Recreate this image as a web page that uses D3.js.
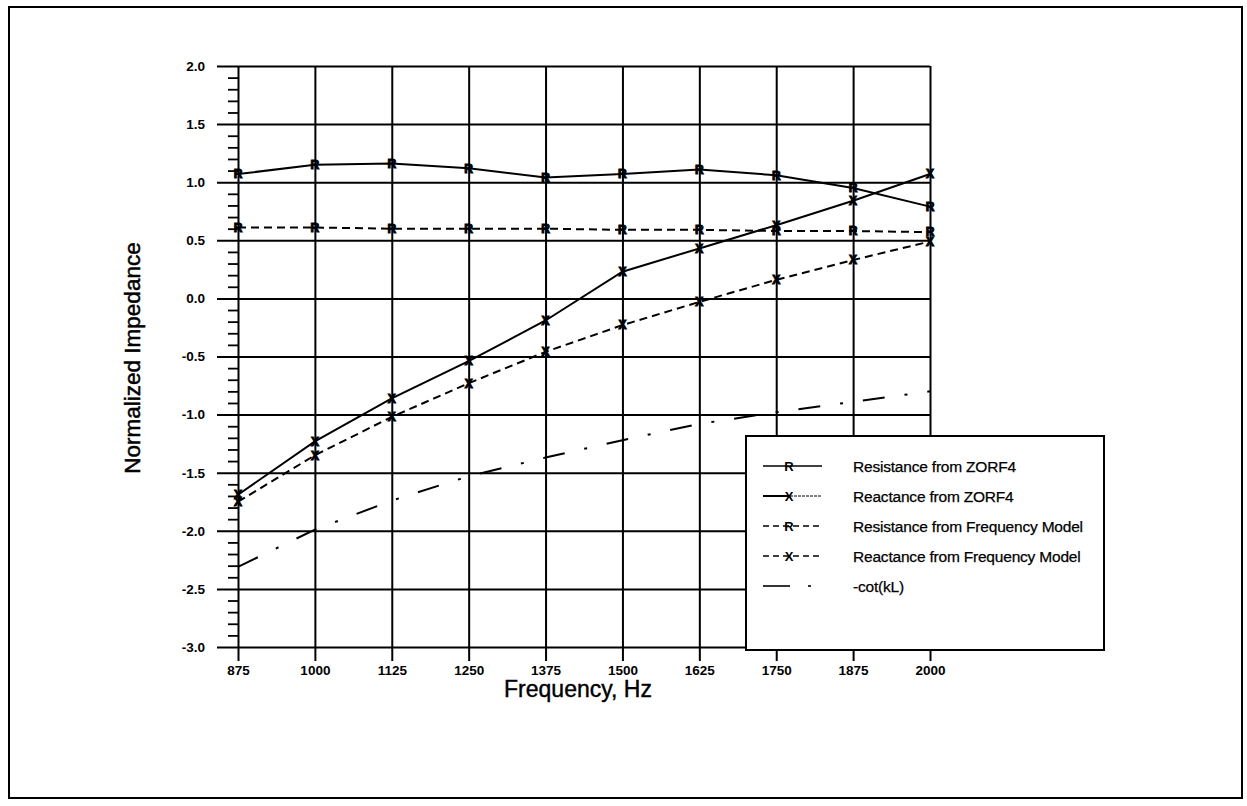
<!DOCTYPE html>
<html>
<head>
<meta charset="utf-8">
<script src="https://cdn.jsdelivr.net/npm/d3@7"></script>
<style>
  html, body { margin: 0; padding: 0; background: #fff; }
  svg { display: block; font-family: "Liberation Sans", Arial, sans-serif; }
</style>
</head>
<body>
<svg id="chart" width="1247" height="806"></svg>
<script>
// ---------------- data ----------------
const frequencies = [875, 1000, 1125, 1250, 1375, 1500, 1625, 1750, 1875, 2000];
const xTickLabels = ["875", "1000", "1125", "1250", "1375", "1500", "1625", "1750", "1875", "2000"];
const yTickValues = [2.0, 1.5, 1.0, 0.5, 0.0, -0.5, -1.0, -1.5, -2.0, -2.5, -3.0];
const yTickLabels = ["2.0", "1.5", "1.0", "0.5", "0.0", "-0.5", "-1.0", "-1.5", "-2.0", "-2.5", "-3.0"];

const resistanceZorf4 = [1.07, 1.15, 1.16, 1.12, 1.04, 1.07, 1.11, 1.06, 0.95, 0.79];
const reactanceZorf4  = [-1.69, -1.23, -0.86, -0.54, -0.19, 0.23, 0.43, 0.63, 0.84, 1.07];
const resistanceModel = [0.61, 0.61, 0.60, 0.60, 0.60, 0.59, 0.59, 0.58, 0.58, 0.57];
const reactanceModel  = [-1.75, -1.35, -1.02, -0.73, -0.46, -0.23, -0.03, 0.16, 0.33, 0.49];
const cotKL           = [-2.31, -1.99, -1.74, -1.53, -1.37, -1.22, -1.08, -0.98, -0.89, -0.80];

const seriesNames = [
  "Resistance from ZORF4",
  "Reactance from ZORF4",
  "Resistance from Frequency Model",
  "Reactance from Frequency Model",
  "-cot(kL)"
];

// ---------------- layout ----------------
const svg = d3.select("#chart");
const x = d3.scaleLinear().domain([875, 2000]).range([238, 930]);
const y = d3.scaleLinear().domain([-3, 2]).range([647, 66]);

// outer frame
svg.append("rect").attr("x", 9).attr("y", 7).attr("width", 1233).attr("height", 791)
  .attr("fill", "none").attr("stroke", "#000").attr("stroke-width", 2);

// horizontal gridlines + y labels (axis placed at right edge, ticks reach left)
const yAx = svg.append("g").attr("transform", `translate(${x(2000)},0)`)
  .call(d3.axisLeft(y).tickValues(yTickValues).tickSize(x(2000) - 217).tickPadding(12)
    .tickFormat((d, i) => yTickLabels[i]));
yAx.select(".domain").remove();
yAx.selectAll("line").attr("stroke", "#000").attr("stroke-width", 2);
yAx.selectAll("text").attr("font-size", 13.5).attr("fill", "#000").attr("font-weight", "bold")
  .attr("font-family", "Liberation Sans, Arial, sans-serif");

// minor ticks on y axis
const minorVals = d3.range(-30, 21).map(v => v / 10).filter(v => Math.abs(v * 2 - Math.round(v * 2)) > 1e-6);
const yMinor = svg.append("g").attr("transform", `translate(${x(875)},0)`)
  .call(d3.axisLeft(y).tickValues(minorVals).tickSize(10).tickFormat(""));
yMinor.select(".domain").remove();
yMinor.selectAll("line").attr("stroke", "#000").attr("stroke-width", 1.8);

// vertical gridlines + x labels
const xAx = svg.append("g").attr("transform", `translate(0,${y(2)})`)
  .call(d3.axisBottom(x).tickValues(frequencies).tickSize(y(-3) - y(2) + 14).tickPadding(4)
    .tickFormat((d, i) => xTickLabels[i]));
xAx.select(".domain").remove();
xAx.selectAll("line").attr("stroke", "#000").attr("stroke-width", 2);
xAx.selectAll("text").attr("font-size", 13.5).attr("fill", "#000").attr("font-weight", "bold")
  .attr("font-family", "Liberation Sans, Arial, sans-serif");

// axis titles
svg.append("text").attr("x", 578).attr("y", 697).attr("text-anchor", "middle")
  .attr("font-size", 23).attr("fill", "#000").attr("stroke", "#000").attr("stroke-width", 0.4)
  .text("Frequency, Hz");
svg.append("text").attr("transform", "translate(140,358) rotate(-90)").attr("text-anchor", "middle")
  .attr("font-size", 22.5).attr("fill", "#000").attr("stroke", "#000").attr("stroke-width", 0.5)
  .text("Normalized Impedance");

// ---------------- series ----------------
const line = d3.line().x(d => x(d[0])).y(d => y(d[1]));
function pts(vals) { return frequencies.map((f, i) => [f, vals[i]]); }

const series = [
  { vals: resistanceZorf4, dash: null, marker: "R" },
  { vals: reactanceZorf4, dash: null, marker: "X" },
  { vals: resistanceModel, dash: "8,5", marker: "R" },
  { vals: reactanceModel, dash: "8,5", marker: "X" },
  { vals: cotKL, dash: "22,20,3,20", marker: null }
];

series.forEach(s => {
  svg.append("path").datum(pts(s.vals)).attr("d", line)
    .attr("fill", "none").attr("stroke", "#000").attr("stroke-width", 2)
    .attr("stroke-dasharray", s.dash);
  if (s.marker) {
    svg.append("g").selectAll("text").data(pts(s.vals)).join("text")
      .attr("x", d => x(d[0])).attr("y", d => y(d[1])).attr("dy", "0.36em")
      .attr("text-anchor", "middle").attr("font-size", 12).attr("font-weight", "bold")
      .attr("fill", "#000").attr("stroke", "#000").attr("stroke-width", 1)
      .text(s.marker);
  }
});

// ---------------- legend ----------------
const lg = svg.append("g");
lg.append("rect").attr("x", 746).attr("y", 436).attr("width", 358).attr("height", 214)
  .attr("fill", "#fff").attr("stroke", "#000").attr("stroke-width", 2);
const rowY = d3.scalePoint().domain(seriesNames).range([466, 586]);
series.forEach((s, i) => {
  const yy = rowY(seriesNames[i]);
  if (s.marker) {
    if (s.dash) {
      lg.append("line").attr("x1", 763).attr("x2", 822).attr("y1", yy).attr("y2", yy)
        .attr("stroke", "#000").attr("stroke-width", 1.6).attr("stroke-dasharray", "6,4");
    } else if (s.marker === "X") {
      lg.append("line").attr("x1", 763).attr("x2", 790).attr("y1", yy).attr("y2", yy)
        .attr("stroke", "#000").attr("stroke-width", 2);
      lg.append("line").attr("x1", 790).attr("x2", 822).attr("y1", yy).attr("y2", yy)
        .attr("stroke", "#000").attr("stroke-width", 1).attr("stroke-dasharray", "3,1");
    } else {
      lg.append("line").attr("x1", 763).attr("x2", 822).attr("y1", yy).attr("y2", yy)
        .attr("stroke", "#000").attr("stroke-width", 1.6);
    }
    lg.append("text").attr("x", 789).attr("y", yy).attr("dy", "0.38em").attr("text-anchor", "middle")
      .attr("font-size", 13).attr("font-weight", "bold").attr("fill", "#000").text(s.marker);
  } else {
    lg.append("line").attr("x1", 763).attr("x2", 790).attr("y1", yy).attr("y2", yy)
      .attr("stroke", "#000").attr("stroke-width", 1.6);
    lg.append("line").attr("x1", 808).attr("x2", 811).attr("y1", yy).attr("y2", yy)
      .attr("stroke", "#000").attr("stroke-width", 1.6);
  }
  lg.append("text").attr("x", 853).attr("y", yy).attr("dy", "0.36em")
    .attr("font-size", 15.5).attr("fill", "#000").attr("stroke", "#000").attr("stroke-width", 0.25)
    .attr("letter-spacing", "-0.2")
    .text(seriesNames[i]);
});
</script>
</body>
</html>
